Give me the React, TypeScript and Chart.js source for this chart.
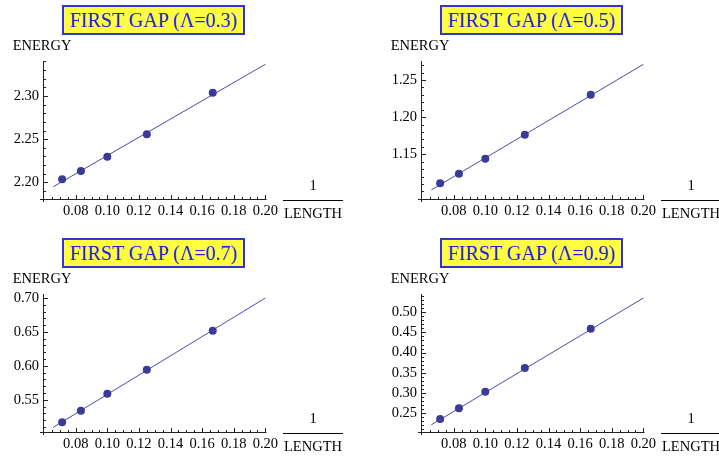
import React, { useEffect, useRef } from "react";
import { Chart, registerables } from "chart.js";
Chart.register(...registerables);

// ---- data ----
const inverseLength = [0.0714, 0.0833, 0.1, 0.125, 0.1667];
const lambdaLabels = ["0.3", "0.5", "0.7", "0.9"];
const energy03 = [2.2035, 2.2131, 2.2296, 2.2556, 2.3037];
const energy05 = [1.111, 1.1239, 1.1441, 1.1764, 1.2302];
const energy07 = [0.5167, 0.5338, 0.5588, 0.5942, 0.6518];
const energy09 = [0.2353, 0.2619, 0.3025, 0.3614, 0.4592];
const fitX = [0.0658, 0.2];
const fit03 = [2.1949, 2.3367];
const fit05 = [1.102, 1.2711];
const fit07 = [0.5093, 0.7];
const fit09 = [0.2204, 0.5356];
const xTicks = [0.08, 0.1, 0.12, 0.14, 0.16, 0.18, 0.2];
const yTicks03 = [2.2, 2.25, 2.3];
const yTicks05 = [1.15, 1.2, 1.25];
const yTicks07 = [0.55, 0.6, 0.65, 0.7];
const yTicks09 = [0.25, 0.3, 0.35, 0.4, 0.45, 0.5];
const xRange = [0.0593, 0.2004];
const yRange03 = [2.1807, 2.3405];
const yRange05 = [1.0898, 1.2756];
const yRange07 = [0.5024, 0.7059];
const yRange09 = [0.2027, 0.5455];

const panels = [
  { lambda: lambdaLabels[0], energy: energy03, fit: fit03, yTicks: yTicks03, yRange: yRange03, left: 0, top: 0 },
  { lambda: lambdaLabels[1], energy: energy05, fit: fit05, yTicks: yTicks05, yRange: yRange05, left: 378, top: 0 },
  { lambda: lambdaLabels[2], energy: energy07, fit: fit07, yTicks: yTicks07, yRange: yRange07, left: 0, top: 233 },
  { lambda: lambdaLabels[3], energy: energy09, fit: fit09, yTicks: yTicks09, yRange: yRange09, left: 378, top: 233 },
];

const SERIF = "'Liberation Serif', 'Times New Roman', serif";
const W = 378;
const H = 233;

function minorValues(min: number, max: number, step: number) {
  const out: number[] = [];
  for (let k = Math.ceil(min / step - 1e-9); k * step <= max + 1e-9; k++) out.push(k * step);
  return out;
}

const mmaAxes = {
  id: "mmaAxes",
  beforeDatasetsDraw(chart: any, _args: any, opts: any) {
    const { ctx, chartArea: a, scales } = chart;
    const xs = scales.x;
    const ys = scales.y;
    const by = Math.round(a.bottom) + 0.5;
    const lx = Math.round(a.left) + 0.5;
    ctx.save();
    ctx.strokeStyle = "#222";
    ctx.lineWidth = 1;
    ctx.beginPath();
    ctx.moveTo(a.left - 3, by);
    ctx.lineTo(a.right + 0.5, by);
    ctx.moveTo(lx, a.bottom + 3);
    ctx.lineTo(lx, a.top);
    const isMajor = (v: number, arr: number[]) => arr.some((m) => Math.abs(m - v) < 1e-7);
    minorValues(xs.min, xs.max, 0.005).forEach((v) => {
      const px = Math.round(xs.getPixelForValue(v)) + 0.5;
      if (px <= lx + 1) return;
      const len = isMajor(v, opts.xMajor) ? 4.5 : 2.5;
      ctx.moveTo(px, by);
      ctx.lineTo(px, by - len);
    });
    minorValues(ys.min, ys.max, 0.01).forEach((v) => {
      const py = Math.round(ys.getPixelForValue(v)) + 0.5;
      if (py >= by - 1) return;
      const len = isMajor(v, opts.yMajor) ? 4.5 : 2.5;
      ctx.moveTo(lx, py);
      ctx.lineTo(lx + len, py);
    });
    ctx.stroke();
    ctx.restore();
  },
};

function Panel(p: any) {
  const ref = useRef<HTMLCanvasElement | null>(null);
  useEffect(() => {
    if (!ref.current) return;
    const chart = new Chart(ref.current, {
      type: "scatter",
      data: {
        datasets: [
          {
            data: inverseLength.map((x, i) => ({ x, y: p.energy[i] })),
            pointRadius: 4,
            pointBackgroundColor: "#3a3a98",
            pointBorderColor: "#3a3a98",
            pointBorderWidth: 0,
            showLine: false,
          },
          {
            data: fitX.map((x, i) => ({ x, y: p.fit[i] })),
            showLine: true,
            pointRadius: 0,
            borderColor: "#4b4bab",
            borderWidth: 1,
          },
        ],
      },
      options: {
        animation: false,
        responsive: false,
        layout: { padding: { left: 0, right: W - 266, top: 61, bottom: 0 } },
        plugins: {
          legend: { display: false },
          tooltip: { enabled: false },
          title: { display: false },
          mmaAxes: { xMajor: xTicks, yMajor: p.yTicks },
        } as any,
        scales: {
          x: {
            type: "linear",
            min: xRange[0],
            max: xRange[1],
            grid: { display: false, drawTicks: false },
            border: { display: false },
            afterBuildTicks: (s: any) => {
              s.ticks = xTicks.map((v) => ({ value: v }));
            },
            afterFit: (s: any) => {
              s.height = H - 199;
            },
            ticks: {
              font: { family: SERIF, size: 14.5 },
              color: "#000",
              padding: 3,
              maxRotation: 0,
              autoSkip: false,
              callback: (v: any) => Number(v).toFixed(2),
            },
          },
          y: {
            type: "linear",
            min: p.yRange[0],
            max: p.yRange[1],
            grid: { display: false, drawTicks: false },
            border: { display: false },
            afterBuildTicks: (s: any) => {
              s.ticks = p.yTicks.map((v: number) => ({ value: v }));
            },
            afterFit: (s: any) => {
              s.width = 43;
            },
            ticks: {
              font: { family: SERIF, size: 14.5 },
              color: "#000",
              padding: 4,
              autoSkip: false,
              callback: (v: any) => Number(v).toFixed(2),
            },
          },
        },
      } as any,
      plugins: [mmaAxes],
    });
    return () => chart.destroy();
  }, []);

  const text14: React.CSSProperties = {
    position: "absolute",
    fontFamily: SERIF,
    fontSize: "14.5px",
    lineHeight: 1,
    color: "#000",
    whiteSpace: "nowrap",
  };

  return (
    <div style={{ position: "absolute", left: p.left, top: p.top, width: W, height: H }}>
      <canvas ref={ref} width={W} height={H} style={{ position: "absolute", left: 0, top: 0 }} />
      <div
        style={{
          position: "absolute",
          left: 62,
          top: 5,
          width: 183,
          height: 30,
          boxSizing: "border-box",
          border: "2px solid #3434c8",
          background: "#ffff40",
          display: "flex",
          alignItems: "center",
          justifyContent: "center",
          fontFamily: SERIF,
          fontSize: "20px",
          color: "#2020e0",
          whiteSpace: "nowrap",
        }}
      >
        FIRST GAP (Λ={p.lambda})
      </div>
      <div style={{ ...text14, left: 12.7, top: 50 - 12.14 }}>ENERGY</div>
      <div style={{ ...text14, left: 283, width: 60, textAlign: "center", top: 190 - 12.14 }}>1</div>
      <div style={{ position: "absolute", left: 283, top: 199.5, width: 60, height: 1, background: "#000" }} />
      <div style={{ ...text14, left: 283, width: 60, textAlign: "center", top: 218 - 12.14 }}>LENGTH</div>
    </div>
  );
}

export default function App() {
  useEffect(() => {
    document.body.style.margin = "0";
    document.body.style.background = "#fff";
  }, []);
  return (
    <div style={{ position: "relative", width: 719, height: 456, overflow: "hidden", background: "#fff" }}>
      {panels.map((p, i) => (
        <Panel key={i} {...p} />
      ))}
    </div>
  );
}
